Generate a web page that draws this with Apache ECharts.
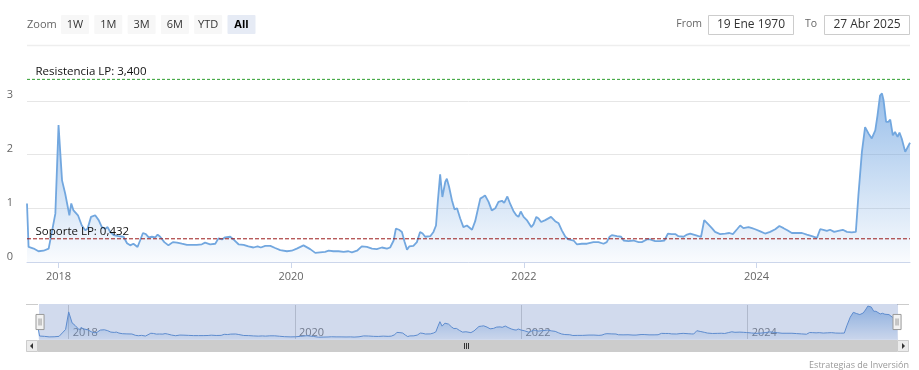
<!DOCTYPE html>
<html><head><meta charset="utf-8">
<script src="https://cdn.jsdelivr.net/npm/echarts@6/dist/echarts.min.js"></script>
<style>html,body{margin:0;padding:0;background:#fff}#c{width:919px;height:370px}</style>
</head><body><div id="c"></div>
<script>
const dates = [
'2017-09-24','2017-09-29','2017-10-15','2017-10-30','2017-11-15','2017-12-01','2017-12-06','2017-12-14','2017-12-22',
'2018-01-01','2018-01-12','2018-01-22','2018-02-04','2018-02-10','2018-02-17','2018-03-03','2018-03-15','2018-03-26',
'2018-04-02','2018-04-13','2018-04-26','2018-05-07','2018-05-17','2018-05-28','2018-06-04','2018-06-12','2018-06-23',
'2018-07-08','2018-07-24','2018-08-04','2018-08-14','2018-08-24','2018-09-06','2018-09-14','2018-09-23','2018-10-02',
'2018-10-11','2018-10-21','2018-11-01','2018-11-08','2018-11-16','2018-11-29','2018-12-12','2018-12-26',
'2019-01-08','2019-01-23','2019-02-08','2019-02-24','2019-03-11','2019-03-27','2019-04-06','2019-04-22','2019-05-08',
'2019-05-18','2019-05-29','2019-06-08','2019-06-24','2019-07-04','2019-07-20','2019-08-05','2019-08-20','2019-09-05',
'2019-09-18','2019-09-28','2019-10-12','2019-10-28','2019-11-12','2019-11-28','2019-12-19',
'2020-01-03','2020-01-19','2020-02-09','2020-03-01','2020-03-17','2020-04-01','2020-04-17','2020-04-28','2020-05-13',
'2020-05-29','2020-06-14','2020-06-29','2020-07-10','2020-07-26','2020-08-10','2020-08-26','2020-09-11','2020-09-26',
'2020-10-12','2020-10-28','2020-11-07','2020-11-18','2020-11-25','2020-12-05','2020-12-14','2020-12-22','2020-12-30',
'2021-01-06','2021-01-19','2021-01-30','2021-02-09','2021-02-17','2021-02-25','2021-03-13','2021-03-23','2021-03-31',
'2021-04-06','2021-04-13','2021-04-20','2021-04-29','2021-05-04','2021-05-11','2021-05-20','2021-05-28','2021-06-05',
'2021-06-15','2021-06-25','2021-07-06','2021-07-22','2021-08-01','2021-08-17','2021-08-25','2021-09-01','2021-09-12',
'2021-09-22','2021-10-03','2021-10-13','2021-10-24','2021-10-31','2021-11-10','2021-11-19','2021-11-29','2021-12-08',
'2021-12-15','2021-12-22','2021-12-31',
'2022-01-10','2022-01-24','2022-01-31','2022-02-09','2022-02-16','2022-02-24','2022-03-09','2022-03-27','2022-04-09',
'2022-04-20','2022-04-30','2022-05-11','2022-05-21','2022-06-06','2022-06-16','2022-07-02','2022-07-18','2022-08-07',
'2022-08-23','2022-09-08','2022-09-18','2022-09-27','2022-10-04','2022-10-20','2022-11-02','2022-11-10','2022-11-25',
'2022-12-11','2022-12-27',
'2023-01-06','2023-01-22','2023-02-01','2023-02-17','2023-03-05','2023-03-18','2023-03-29','2023-04-10','2023-04-21',
'2023-05-01','2023-05-17','2023-05-28','2023-06-07','2023-06-23','2023-07-03','2023-07-11','2023-07-21','2023-08-03',
'2023-08-14','2023-08-24','2023-09-09','2023-09-25','2023-10-08','2023-10-19','2023-11-01','2023-11-11','2023-11-21',
'2023-12-07','2023-12-18','2023-12-28',
'2024-01-13','2024-01-28','2024-02-13','2024-02-29','2024-03-13','2024-03-26','2024-04-07','2024-04-21','2024-05-07',
'2024-05-23','2024-06-07','2024-06-23','2024-07-09','2024-07-19','2024-07-29','2024-08-09','2024-08-19','2024-09-01',
'2024-09-14','2024-09-28','2024-10-11','2024-10-26','2024-11-08','2024-11-16','2024-11-27','2024-12-07','2024-12-18',
'2024-12-28',
'2025-01-08','2025-01-15','2025-01-23','2025-01-29','2025-02-03','2025-02-11','2025-02-18','2025-02-24','2025-03-04',
'2025-03-11','2025-03-19','2025-03-25','2025-04-01','2025-04-12','2025-04-17','2025-04-27'
];
const values = [
1.09,0.28,0.25,0.20,0.21,0.25,0.23,0.65,0.90,
2.55,1.52,1.27,0.87,1.09,0.96,0.87,0.68,0.59,
0.62,0.84,0.87,0.78,0.65,0.62,0.65,0.56,0.50,
0.48,0.47,0.35,0.31,0.34,0.28,0.40,0.54,0.52,
0.46,0.47,0.46,0.51,0.47,0.37,0.31,0.37,
0.36,0.34,0.32,0.32,0.32,0.33,0.36,0.33,0.34,
0.44,0.42,0.46,0.47,0.42,0.33,0.32,0.29,0.27,
0.29,0.27,0.30,0.30,0.26,0.22,0.20,
0.21,0.25,0.31,0.24,0.17,0.18,0.19,0.21,0.20,
0.20,0.19,0.20,0.18,0.21,0.29,0.28,0.25,0.24,
0.27,0.25,0.27,0.40,0.62,0.60,0.56,0.38,0.23,
0.29,0.30,0.37,0.56,0.53,0.47,0.48,0.56,0.68,
1.15,1.63,1.21,1.49,1.55,1.40,1.15,0.98,1.00,
0.81,0.65,0.68,0.60,0.76,1.18,1.21,1.24,1.12,
0.96,1.00,1.12,1.14,1.10,1.22,1.08,0.95,0.87,
0.84,0.94,0.84,
0.78,0.65,0.70,0.84,0.81,0.745,0.78,0.84,0.76,
0.72,0.59,0.47,0.42,0.40,0.33,0.34,0.34,0.37,
0.37,0.34,0.37,0.47,0.50,0.48,0.47,0.40,0.39,
0.40,0.37,
0.37,0.42,0.42,0.39,0.39,0.40,0.53,0.52,0.52,
0.48,0.47,0.51,0.53,0.50,0.48,0.47,0.78,0.70,
0.63,0.56,0.52,0.53,0.54,0.52,0.61,0.68,0.63,
0.65,0.63,0.61,
0.57,0.53,0.56,0.61,0.67,0.63,0.59,0.54,0.54,
0.54,0.51,0.48,0.45,0.61,0.60,0.58,0.60,0.56,
0.58,0.60,0.56,0.55,0.56,1.24,2.05,2.51,2.39,
2.30,
2.45,2.73,3.10,3.14,3.01,2.61,2.61,2.65,2.36,
2.42,2.33,2.41,2.30,2.05,2.08,2.22
];
const yearTicks = ['2018-01-01','2020-01-01','2022-01-01','2024-01-01'];
const yTicks = [0, 1, 2, 3];
const resistanceLevel = 3.4;
const supportLevel = 0.432;
const zoomButtons = ['1W','1M','3M','6M','YTD','All'];
const fromDate = '19 Ene 1970';
const toDate = '27 Abr 2025';
const creditText = 'Estrategias de Inversión';

const FONT = '"Open Sans", "DejaVu Sans", sans-serif';
const P = s => new Date(s + 'T00:00:00Z').getTime();
const yearTickValues = yearTicks.map(P);
const seriesData = dates.map((d, i) => [P(d), values[i]]);
const fmtLevel = v => v.toFixed(3).replace('.', ',');
const xMin = P(dates[0]), xMax = P(dates[dates.length - 1]);
const yearFmt = v => String(new Date(v).getUTCFullYear());

const chart = echarts.init(document.getElementById('c'));

const g = [];
g.push({type:'text', x:27, y:24.5, style:{text:'Zoom', fill:'#666', font:'11px ' + FONT, align:'left', verticalAlign:'middle'}});
zoomButtons.forEach((b, i) => {
  const x0 = 61 + i * 33.3;
  const sel = b === 'All';
  g.push({type:'rect', shape:{x:x0, y:15, width:28, height:19, r:1}, style:{fill: sel ? '#e6ebf5' : '#f7f7f7'}});
  g.push({type:'text', x:x0 + 14, y:24.5, style:{text:b, fill: sel ? '#000' : '#333', font:(sel ? 'bold ' : '') + '11px ' + FONT, align:'center', verticalAlign:'middle'}});
});
g.push({type:'text', x:702, y:24.5, style:{text:'From', fill:'#666', font:'10.5px ' + FONT, align:'right', verticalAlign:'middle'}});
g.push({type:'rect', shape:{x:708.5, y:15.5, width:85, height:19}, style:{fill:'#fff', stroke:'#cccccc', lineWidth:1}});
g.push({type:'text', x:751, y:24.5, style:{text:fromDate, fill:'#333', font:'12px ' + FONT, align:'center', verticalAlign:'middle'}});
g.push({type:'text', x:817, y:24.5, style:{text:'To', fill:'#666', font:'10.5px ' + FONT, align:'right', verticalAlign:'middle'}});
g.push({type:'rect', shape:{x:824.5, y:15.5, width:85, height:19}, style:{fill:'#fff', stroke:'#cccccc', lineWidth:1}});
g.push({type:'text', x:867, y:24.5, style:{text:toDate, fill:'#333', font:'12px ' + FONT, align:'center', verticalAlign:'middle'}});
g.push({type:'line', shape:{x1:27, y1:45.5, x2:910, y2:45.5}, style:{stroke:'#eeeeee', lineWidth:1.5}});
// scrollbar
g.push({type:'rect', shape:{x:26, y:340, width:883, height:12}, style:{fill:'#f2f2f2'}});
g.push({type:'rect', shape:{x:38, y:340, width:859, height:12}, style:{fill:'#cccccc'}});
g.push({type:'rect', shape:{x:26.5, y:340.5, width:11, height:11}, style:{fill:'#ebebeb', stroke:'#cccccc'}});
g.push({type:'rect', shape:{x:897.5, y:340.5, width:11, height:11}, style:{fill:'#ebebeb', stroke:'#cccccc'}});
g.push({type:'polygon', shape:{points:[[33,343],[33,349],[30,346]]}, style:{fill:'#333'}});
g.push({type:'polygon', shape:{points:[[902,343],[902,349],[905,346]]}, style:{fill:'#333'}});
[464.5, 466.5, 468.5].forEach(x => g.push({type:'line', shape:{x1:x, y1:343, x2:x, y2:349}, style:{stroke:'#333', lineWidth:1}}));
g.push({type:'line', shape:{x1:26, y1:304.5, x2:38, y2:304.5}, style:{stroke:'#cccccc', lineWidth:1}});
g.push({type:'line', shape:{x1:897, y1:304.5, x2:909, y2:304.5}, style:{stroke:'#cccccc', lineWidth:1}});
g.push({type:'text', x:909, y:365, style:{text:creditText, fill:'#999', font:'9px ' + FONT, align:'right', verticalAlign:'middle'}});

function levelSeries(name, level, color, dash) {
  return {
    type:'line', name:name, xAxisIndex:0, yAxisIndex:0, silent:true, z:5,
    symbol:'circle', symbolSize:1, showSymbol:true,
    lineStyle:{color:color, type:dash, width:1},
    itemStyle:{color:'rgba(0,0,0,0)', borderWidth:0},
    label:{show:false},
    data:[
      {value:[xMin, level], label:{show:true, position:[9, -1], align:'left', verticalAlign:'bottom',
        formatter:name + ': ' + fmtLevel(level), color:'#111', opacity:1, fontSize:11.5, fontFamily:FONT}},
      {value:[xMax, level]}
    ]
  };
}

const option = {
  animation: false,
  backgroundColor: '#fff',
  grid: [
    {left:27, right:9, top:74, bottom:108},
    {left:38, right:22, top:305, height:34}
  ],
  xAxis: [
    {type:'value', gridIndex:0, min:xMin, max:xMax,
     axisLine:{show:true, lineStyle:{color:'#ccd6eb'}},
     axisTick:{show:true, length:6, lineStyle:{color:'#ccd6eb'}, customValues:yearTickValues},
     axisLabel:{customValues:yearTickValues, formatter:yearFmt, color:'#666', fontSize:11, fontFamily:FONT, margin:9},
     splitLine:{show:false}},
    {type:'value', gridIndex:1, min:xMin, max:xMax,
     axisLine:{show:false},
     axisTick:{show:false, customValues:yearTickValues},
     axisLabel:{customValues:yearTickValues, inside:true, align:'left', padding:[0,0,0,4], formatter:yearFmt, color:'#777', fontSize:11, fontFamily:FONT, margin:1, verticalAlign:'bottom'},
     splitLine:{show:true, lineStyle:{color:'#d0d0d0'}}}
  ],
  yAxis: [
    {type:'value', gridIndex:0, min:0, max:3.5, interval:1,
     axisLine:{show:false},
     axisTick:{show:false, customValues:yTicks},
     axisLabel:{customValues:yTicks, color:'#666', fontSize:11, fontFamily:FONT, margin:14, verticalAlign:'bottom'},
     splitLine:{show:true, lineStyle:{color:'#e6e6e6'}}},
    {type:'value', gridIndex:1, min:0, max:3.2, show:false, splitLine:{show:false}}
  ],
  dataZoom: [{
    type:'slider', xAxisIndex:0, filterMode:'none', start:0, end:100,
    left:38, right:22, top:304, height:36,
    showDataShadow:false, showDetail:false, brushSelect:false, moveHandleSize:0,
    backgroundColor:'transparent', borderColor:'transparent',
    fillerColor:'rgba(102,133,194,0.3)',
    handleIcon:'path://M0,0 H8 V15 H0 Z M3,4 V11 M5,4 V11',
    handleSize:'42%',
    handleStyle:{color:'#f2f2f2', borderColor:'#999', borderWidth:1},
    emphasis:{handleStyle:{color:'#f2f2f2', borderColor:'#999'}}
  }],
  series: [
    {type:'line', xAxisIndex:0, yAxisIndex:0, data:seriesData, showSymbol:false, smooth:false,
     lineStyle:{color:'#72a7df', width:1.8}, itemStyle:{color:'#72a7df'},
     areaStyle:{color:new echarts.graphic.LinearGradient(0,0,0,1,[
       {offset:0, color:'rgba(98,156,222,0.92)'}, {offset:1, color:'rgba(98,156,222,0.05)'}])}},
    levelSeries('Resistencia LP', resistanceLevel, '#2e9e2e', [3,2]),
    levelSeries('Soporte LP', supportLevel, '#9b1b1b', [4,2]),
    {type:'line', xAxisIndex:1, yAxisIndex:1, data:seriesData, showSymbol:false, silent:true,
     lineStyle:{color:'#5a8fd3', width:1}, itemStyle:{color:'#5a8fd3'},
     areaStyle:{color:new echarts.graphic.LinearGradient(0,0,0,1,[
       {offset:0, color:'rgba(98,156,222,0.9)'}, {offset:1, color:'rgba(98,156,222,0.1)'}])}}
  ],
  graphic: g
};
chart.setOption(option);
</script>
</body></html>
